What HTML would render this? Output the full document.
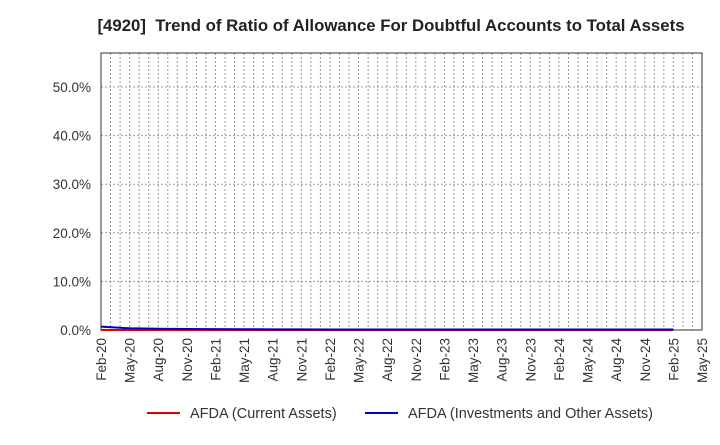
<!DOCTYPE html>
<html><head><meta charset="utf-8"><style>
body{margin:0;background:#fff;font-family:"Liberation Sans",Arial,sans-serif;}
</style></head><body>
<svg id="chart" width="720" height="440" xmlns="http://www.w3.org/2000/svg" font-family="Liberation Sans, Arial, sans-serif">
<text x="391" y="31" text-anchor="middle" font-size="16.8" font-weight="bold" fill="#222" xml:space="preserve">[4920]  Trend of Ratio of Allowance For Doubtful Accounts to Total Assets</text>
<g id="grid"></g>
<rect x="101" y="53" width="601" height="277" fill="none" stroke="#333" stroke-width="1"/>
<g id="yaxis"></g><g id="xaxis"></g><g id="series"></g>
<g>
<line x1="147" y1="413" x2="180" y2="413" stroke="#e00000" stroke-width="2"/>
<text x="190" y="418" font-size="14.5" fill="#333">AFDA (Current Assets)</text>
<line x1="365" y1="413" x2="398" y2="413" stroke="#0000cc" stroke-width="2"/>
<text x="408" y="418" font-size="14.5" fill="#333">AFDA (Investments and Other Assets)</text>
</g>
</svg>
<script>
const yTicks=[0,10,20,30,40,50];
const xLabels=["Feb-20","May-20","Aug-20","Nov-20","Feb-21","May-21","Aug-21","Nov-21","Feb-22","May-22","Aug-22","Nov-22","Feb-23","May-23","Aug-23","Nov-23","Feb-24","May-24","Aug-24","Nov-24","Feb-25","May-25"];
const currentAssets=[0,0,0,0,0,0,0,0,0,0,0,0,0,0,0,0,0,0,0,0,0];
const investments=[0.7,0.35,0.25,0.2,0.18,0.15,0.13,0.12,0.1,0.1,0.1,0.1,0.1,0.1,0.1,0.1,0.1,0.1,0.1,0.1,0.1];
const NS="http://www.w3.org/2000/svg";
const x0=101,x1=702,y0=330,yTop=53;
const xMonth=m=>x0+m*(x1-x0)/63;
const y=v=>y0-v*(330-87)/50;
function mk(t,a,p){const e=document.createElementNS(NS,t);for(const k in a)e.setAttribute(k,a[k]);p.appendChild(e);return e;}
const grid=document.getElementById('grid'),ya=document.getElementById('yaxis'),xa=document.getElementById('xaxis'),se=document.getElementById('series');
for(let m=1;m<63;m++){const l=mk('line',{x1:xMonth(m),x2:xMonth(m),y1:yTop,y2:y0,stroke:'#999','stroke-dasharray':'2,2','stroke-width':1},grid);

}
yTicks.forEach(v=>{if(v>0){const g=mk('line',{x1:x0,x2:x1,y1:y(v),y2:y(v),stroke:'#999','stroke-dasharray':'2,2'},grid);

}
const t=mk('text',{x:x0-10,y:y(v)+5,'text-anchor':'end','font-size':13.5,fill:'#333'},ya);t.textContent=v.toFixed(1)+'%';

});
xLabels.forEach((s,i)=>{const xx=xMonth(i*3);const t=mk('text',{x:xx+5,y:338,'text-anchor':'end','font-size':13.5,fill:'#333',transform:`rotate(-90 ${xx+5} 338)`},xa);t.textContent=s;

});
function line(d,c,n){const p=mk('polyline',{points:d.map((v,i)=>xMonth(i*3)+','+y(v)).join(' '),fill:'none',stroke:c,'stroke-width':2},se);

}
line(currentAssets,'#e00000','series-current-assets');
line(investments,'#0000cc','series-investments');
</script>
</body></html>
